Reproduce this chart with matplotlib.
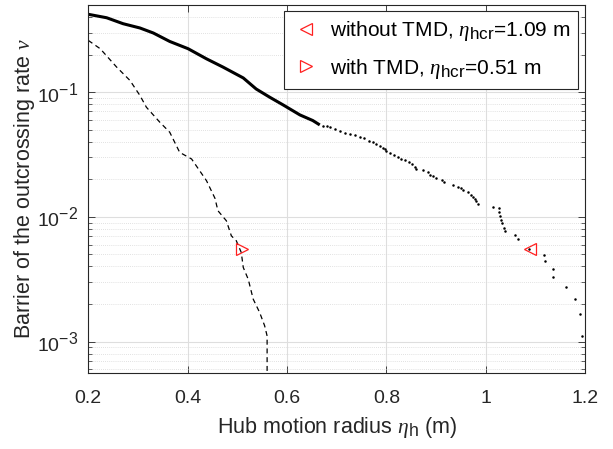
import numpy as np
import matplotlib
matplotlib.use("Agg")
import matplotlib.pyplot as plt
import matplotlib._mathtext as mt

plt.rcParams["font.family"] = ["Liberation Sans", "DejaVu Sans"]
plt.rcParams["mathtext.fontset"] = "custom"
plt.rcParams["mathtext.rm"] = "Liberation Sans"
plt.rcParams["mathtext.it"] = "Liberation Serif:italic"
plt.rcParams["mathtext.bf"] = "Liberation Sans:bold"
# MATLAB-like (larger) sub/superscripts
mt.SHRINK_FACTOR = 0.82

# ---- data ----

# without TMD: dense part (drawn as a thick line)
wo_x = [0.200, 0.237, 0.270, 0.304, 0.331, 0.364, 0.401, 0.438, 0.471,
        0.512, 0.538, 0.565, 0.592, 0.626, 0.652, 0.666]
wo_y = [0.421, 0.395, 0.354, 0.327, 0.298, 0.255, 0.223, 0.185, 0.159,
        0.130, 0.106, 0.0912, 0.0791, 0.0657, 0.0592, 0.0546]

# without TMD: sparse tail (drawn as dots)
wo_dot_x = [0.672, 0.680, 0.686, 0.696, 0.706, 0.716, 0.726, 0.736, 0.746,
            0.756, 0.766, 0.773, 0.780, 0.787, 0.793, 0.797, 0.800, 0.808,
            0.816, 0.823, 0.830, 0.838, 0.846, 0.852, 0.857, 0.859, 0.873,
            0.883, 0.887, 0.894, 0.899, 0.913, 0.917, 0.934, 0.944, 0.950,
            0.954, 0.964, 0.970, 0.975, 0.979, 0.981, 0.985, 1.014, 1.026,
            1.027, 1.029, 1.031, 1.033, 1.036, 1.038, 1.060, 1.066, 1.088,
            1.118, 1.120, 1.135, 1.136, 1.162, 1.180, 1.190, 1.193]
wo_dot_y = [0.0540, 0.0535, 0.0524, 0.0505, 0.0486, 0.0472, 0.0459, 0.0450,
            0.0440, 0.0425, 0.0409, 0.0397, 0.0385, 0.0372, 0.0357, 0.0347,
            0.0336, 0.0326, 0.0316, 0.0303, 0.0291, 0.0284, 0.0277, 0.0263,
            0.0250, 0.0244, 0.0239, 0.0228, 0.0218, 0.0211, 0.0204, 0.0197,
            0.0189, 0.0181, 0.0175, 0.0169, 0.0165, 0.0157, 0.0150, 0.0145,
            0.0140, 0.0135, 0.0127, 0.0121, 0.0117, 0.0109, 0.0102, 0.0095,
            0.0089, 0.0082, 0.0077, 0.00714, 0.00663, 0.00551, 0.00499,
            0.00441, 0.00385, 0.00332, 0.00276, 0.00221, 0.00166, 0.00111]

# with TMD
w_x = [0.200, 0.224, 0.257, 0.284, 0.304, 0.317, 0.344, 0.364, 0.384,
       0.408, 0.438, 0.455, 0.461, 0.478, 0.488, 0.498, 0.508, 0.512,
       0.522, 0.532, 0.545, 0.555, 0.560, 0.560]
w_y = [0.260, 0.223, 0.159, 0.124, 0.0940, 0.0757, 0.0574, 0.0477, 0.0329,
       0.0291, 0.0195, 0.0141, 0.0112, 0.0093, 0.00705, 0.00643, 0.00518,
       0.00393, 0.00316, 0.00219, 0.00171, 0.00134, 0.00111, 0.000564]

# critical points
crit_wo = (1.09, 0.0055)
crit_w = (0.51, 0.0055)

# ---- plot ----

fig = plt.figure(figsize=(6.13, 4.49), dpi=100)
ax = fig.add_axes([0.1440, 0.1693, 0.8104, 0.8196])

ax.plot(wo_x, wo_y, "k-", lw=2.2, solid_capstyle="butt")
ax.plot(wo_dot_x, wo_dot_y, "ko", ms=1.8, mec="none")
ax.plot(w_x, w_y, color="k", ls=(0, (4, 3)), lw=0.9)

h1, = ax.plot(*crit_wo, marker="<", ms=9, mfc="none", mec="#ff2020",
              mew=0.9, ls="none",
              label=r"without TMD, $\eta_{\mathrm{hcr}}$=1.09 m")
h2, = ax.plot(*crit_w, marker=">", ms=9, mfc="none", mec="#ff2020",
              mew=0.9, ls="none",
              label=r"with TMD, $\eta_{\mathrm{hcr}}$=0.51 m")

ax.set_yscale("log")
ax.set_xlim(0.2, 1.2)
ax.set_ylim(5.6e-4, 0.5)
ax.set_xticks([0.2, 0.4, 0.6, 0.8, 1.0, 1.2])
ax.set_xticklabels(["0.2", "0.4", "0.6", "0.8", "1", "1.2"])

ax.tick_params(which="both", direction="in", top=True, right=True,
               labelsize=14, colors="#262626")
ax.tick_params(which="major", length=5, width=0.6)
ax.tick_params(axis="x", which="major", pad=12)
ax.tick_params(axis="y", which="major", pad=7)
ax.tick_params(which="minor", length=3, width=0.5)
ax.tick_params(axis="x", which="minor", bottom=False, top=False)

ax.grid(which="major", color="#dedede", lw=0.8)
ax.grid(which="minor", axis="y", color="#d8d8d8", lw=0.6, ls=(0, (1, 1.5)))
ax.set_axisbelow(True)
for s in ax.spines.values():
    s.set_linewidth(0.8)
    s.set_color("#262626")

ax.set_xlabel(r"Hub motion radius $\eta_{\mathrm{h}}$ (m)", fontsize=15.5,
              color="#262626", labelpad=6)
ax.set_ylabel(r"Barrier of the outcrossing rate $\nu$", fontsize=15.5,
              color="#262626")
ax.yaxis.set_label_coords(-0.103, 0.5)

leg = ax.legend(handles=[h1, h2], loc="upper right",
                bbox_to_anchor=(0.986, 0.984), borderaxespad=0,
                fontsize=15, fancybox=False, framealpha=1,
                edgecolor="#262626", handlelength=1.3, handletextpad=0.5,
                labelspacing=0.65, borderpad=0.4)
leg.get_frame().set_linewidth(0.8)

fig.savefig("out.png", dpi=100)
